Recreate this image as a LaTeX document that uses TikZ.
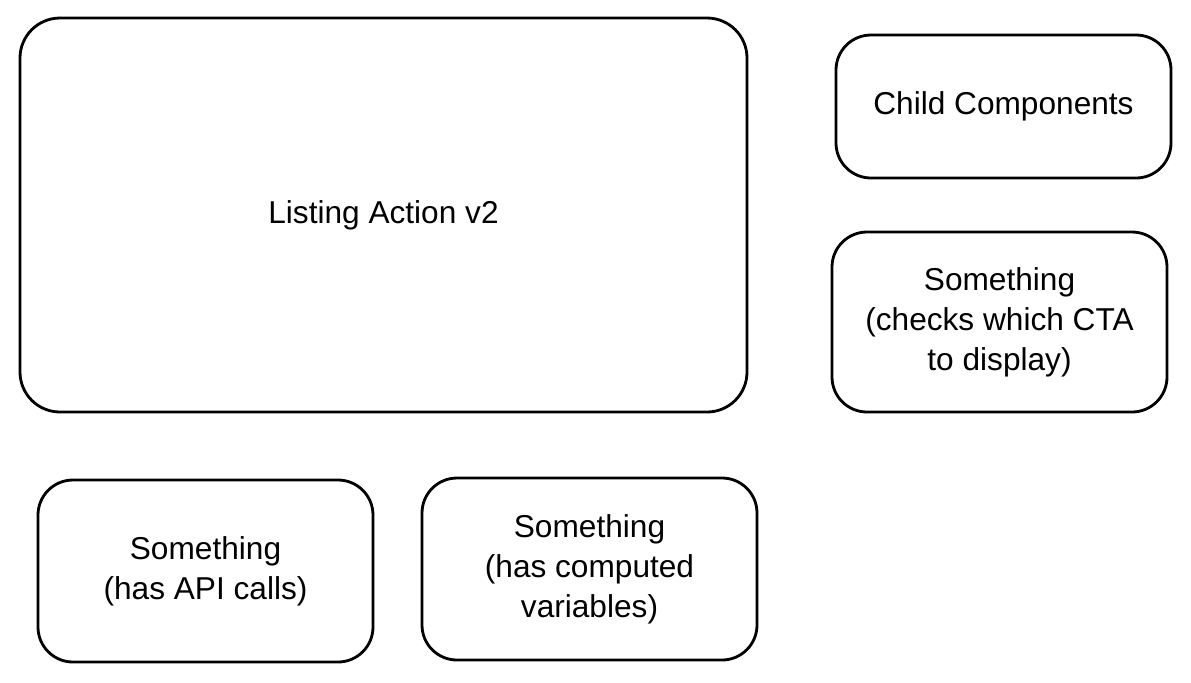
\documentclass[tikz,border=0pt]{standalone}
\usepackage{fontspec}
\setmainfont{Liberation Sans}
\usepackage{tikz}
\usetikzlibrary{calc}

\begin{document}
\begin{tikzpicture}
			\useasboundingbox (0, 0) rectangle (23.82, -13.64);
			
			\begin{scope}[every node/.style={rectangle, draw, line width = 1.6pt, rounded corners = 8mm, align = center, font = \fontsize{18}{22.8}\selectfont}]
			\node (0) [minimum width = 14.54cm, minimum height = 7.88cm] at (7.67, -4.30) {Listing Action v2};
			\end{scope}
			
			\begin{scope}[every node/.style={rectangle, draw, line width = 1.6pt, rounded corners = 7mm, align = center, minimum width = 6.7cm, font = \fontsize{18}{22.8}\selectfont}]
			\node (1) [minimum height = 2.86cm] at (20.07, -2.13) {Child Components};
			\node (2) [minimum height = 3.6cm] at (19.99, -6.44) {Something\\(checks which CTA\\to display)};
			\node (3) [minimum height = 3.64cm] at (4.11, -11.42) {Something\\(has API calls)};
			\node (4) [minimum height = 3.64cm] at (11.79, -11.38) {Something\\(has computed\\variables)};
			\end{scope}
			
			\end{tikzpicture}
\end{document}
